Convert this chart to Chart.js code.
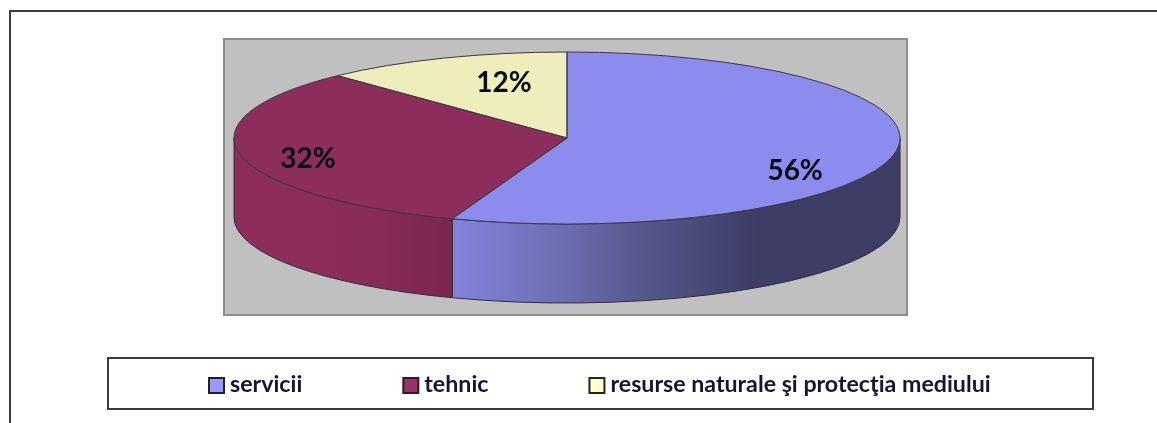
<!DOCTYPE html>
<html lang="ro">
<head>
<meta charset="utf-8">
<style>html,body{margin:0;padding:0;background:#fff;overflow:hidden}canvas{display:block;filter:blur(0.45px)}</style>
<script src="https://cdn.jsdelivr.net/npm/chart.js@4/dist/chart.umd.min.js"></script>
</head>
<body>
<canvas id="c" width="1157" height="423"></canvas>
<script>
const categories = ["servicii", "tehnic", "resurse naturale şi protecţia mediului"];
const shares = [55.6, 32.3, 12.1];
const topColors = ["#8c8cee", "#8c2d5c", "#eeeebd"];
const legendColors = ["#9999ff", "#993366", "#ffffcc"];

const RX = 333, RY = 86, DEPTH = 79;
const labelFont = "700 28px Lato";
const legendFont = "700 23.2px Lato";
const labelAnchors = [[0.685, 0.378], [-0.778, 0.24], [-0.189, -0.64]];
const wallStops = [
  [[0, "#8282dc"], [0.24, "#6e6eb4"], [0.44, "#55558a"], [0.68, "#3d3d66"], [1, "#3d3d66"]],
  [[0, "#8c2d5c"], [0.6, "#8a2c5a"], [1, "#7a2650"]]
];

const pie3d = {
  id: "pie3d",
  beforeDraw(chart) {
    const c = chart.ctx;
    c.save();
    c.fillStyle = "#fff"; c.fillRect(0, 0, chart.width, chart.height);
    // page frame: top and left rules
    c.strokeStyle = "#3c3c3c"; c.lineWidth = 2;
    c.beginPath(); c.moveTo(chart.width, 11); c.lineTo(10, 11); c.lineTo(10, chart.height); c.stroke();
    // plot background
    c.fillStyle = "#c0c0c0"; c.fillRect(223, 38, 685, 278);
    c.strokeStyle = "#8c8c8c"; c.strokeRect(224, 39, 683, 276);
    // legend frame
    c.strokeStyle = "#3c3c3c"; c.strokeRect(108, 358, 985, 51);
    c.font = legendFont; c.textBaseline = "middle"; c.textAlign = "left";
    let x = 209;
    chart.data.labels.forEach((t, i) => {
      c.fillStyle = legendColors[i]; c.fillRect(x, 378, 15, 15);
      c.strokeStyle = "#222"; c.lineWidth = 2; c.strokeRect(x, 378, 15, 15);
      c.fillStyle = "#14143a";
      c.fillText(t, x + 21, 385);
      x += 21 + c.measureText(t).width + 101;
    });
    c.restore();
  },
  beforeDatasetsDraw(chart) {
    const c = chart.ctx, arcs = chart.getDatasetMeta(0).data;
    const cx = arcs[0].x, cy = arcs[0].y;
    c.save();
    c.lineWidth = 1; c.strokeStyle = "#2e2e3a";
    arcs.forEach((a, i) => {
      const from = Math.max(a.startAngle, 0), to = Math.min(a.endAngle, Math.PI);
      if (to <= from || !wallStops[i]) return;
      const x0 = cx + RX * Math.cos(from), x1 = cx + RX * Math.cos(to);
      const g = c.createLinearGradient(Math.min(x0, x1), 0, Math.max(x0, x1), 0);
      wallStops[i].forEach(s => g.addColorStop(s[0], s[1]));
      c.beginPath();
      c.ellipse(cx, cy, RX, RY, 0, from, to);
      c.ellipse(cx, cy + DEPTH, RX, RY, 0, to, from, true);
      c.closePath();
      c.fillStyle = g; c.fill(); c.stroke();
    });
    c.restore();
    // flatten the library's circular pie into the ellipse
    c.save();
    c.translate(cx, cy); c.scale(RX / arcs[0].outerRadius, RY / arcs[0].outerRadius); c.translate(-cx, -cy);
  },
  afterDatasetsDraw(chart) {
    const c = chart.ctx, arcs = chart.getDatasetMeta(0).data;
    c.restore();
    const cx = arcs[0].x, cy = arcs[0].y;
    c.save();
    c.lineWidth = 1; c.strokeStyle = "#3a3a44";
    arcs.forEach(a => {
      c.beginPath();
      c.moveTo(cx, cy);
      c.ellipse(cx, cy, RX, RY, 0, a.startAngle, a.endAngle);
      c.closePath();
      c.stroke();
    });
    c.font = labelFont; c.fillStyle = "#0b0b14"; c.textAlign = "center"; c.textBaseline = "middle";
    chart.data.datasets[0].data.forEach((v, i) => {
      c.fillText(Math.round(v) + "%", cx + RX * labelAnchors[i][0], cy + RY * labelAnchors[i][1]);
    });
    c.restore();
  }
};

new Chart(document.getElementById("c"), {
  type: "pie",
  data: {
    labels: categories,
    datasets: [{ data: shares, backgroundColor: topColors, borderWidth: 0, clip: false }]
  },
  options: {
    responsive: false,
    animation: false,
    layout: { padding: { top: 52, bottom: 199, left: 0, right: 23 } },
    plugins: { legend: { display: false }, tooltip: { enabled: false }, title: { display: false } }
  },
  plugins: [pie3d]
});
</script>
</body>
</html>
